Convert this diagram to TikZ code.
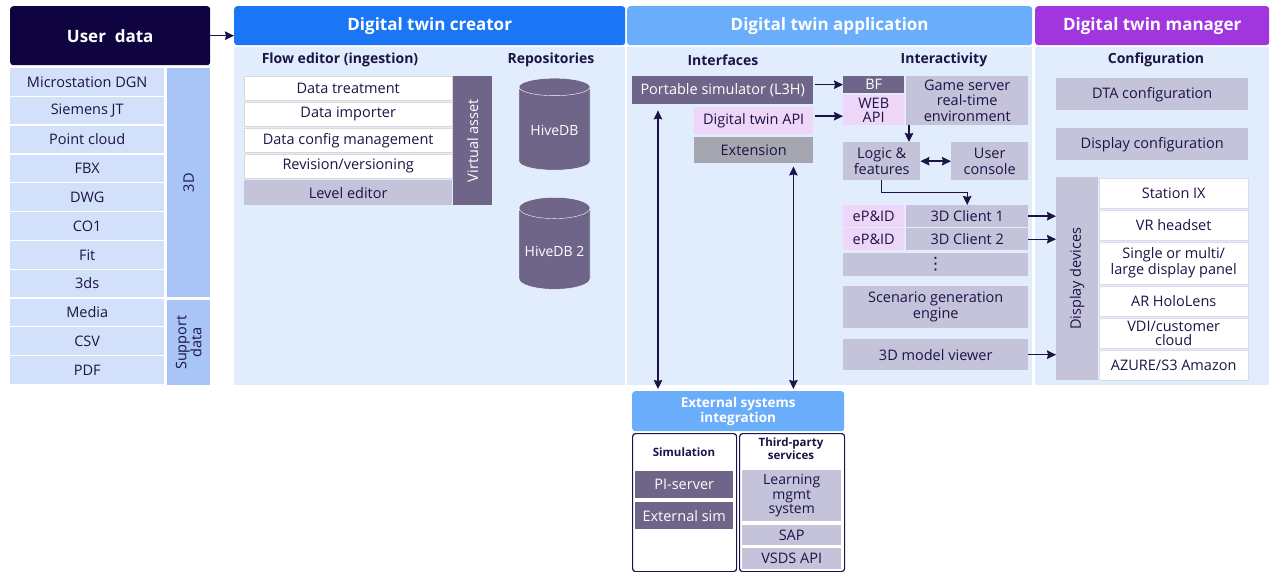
\documentclass[tikz,border=0pt]{standalone}
\usepackage{fontspec}
\setmainfont{Open Sans}
\newfontfamily\symfont{DejaVu Sans}
\usetikzlibrary{positioning, arrows.meta, shapes.geometric}
\definecolor{ink}{HTML}{1B1446}
\definecolor{udark}{HTML}{0F0340}
\definecolor{udrow}{HTML}{D2E1F9}
\definecolor{udcol}{HTML}{A9C5F7}
\definecolor{creatorblue}{HTML}{1A76F5}
\definecolor{appblue}{HTML}{6AAEFB}
\definecolor{mgrpurple}{HTML}{A136DF}
\definecolor{panelbg}{HTML}{E1EDFD}
\definecolor{lilac}{HTML}{C4C3DA}
\definecolor{plum}{HTML}{6E6589}
\definecolor{pink}{HTML}{EDD6F7}
\definecolor{stone}{HTML}{A6A6B0}
\tikzset{
x=1pt, y=-1pt, % pixel-like units, y grows downward
>={Stealth[length=9pt, width=8.5pt, inset=1pt]}, % makes the arrow heads bold
box/.style={anchor=north west, inner sep=1pt, align=center, text=ink, font=\fontsize{14.5}{16}\selectfont}, % every filled block
head/.style={box, rounded corners=3pt, text=white, font=\bfseries\fontsize{17}{19}\selectfont}, % coloured column headers
panel/.style={anchor=north west, fill=panelbg, inner sep=0pt}, % light column background
title/.style={text=ink, align=center, font=\bfseries\fontsize{14}{16}\selectfont}, % section titles
vlabel/.style={rotate=90, align=center, font=\fontsize{14.5}{15}\selectfont}, % rotated side labels
db/.style={cylinder, shape border rotate=90, aspect=0.32, draw=white, fill=plum, text=white, minimum width=71pt, minimum height=92pt, font=\fontsize{14}{16}\selectfont}, % repositories
link/.style={->, line width=1.4pt, draw=ink}, % connectors
}
\begin{document}
\begin{tikzpicture}
    \useasboundingbox (0,0) rectangle (1274,572);
    % user data
    \node[head, fill=udark, minimum width=200pt, minimum height=59pt] (user) at (10,6) {User\ \ data};
    \foreach \name [count=\i] in {Microstation DGN, Siemens JT, Point cloud, FBX, DWG, CO1, Fit, 3ds, Media, CSV, PDF}
        \node[box, fill=udrow, minimum width=154pt, minimum height=27.5pt] (ud\i) at (10,{68+28.8*(\i-1)}) {\name};
    \node[box, fill=udcol, minimum width=43pt, minimum height=229pt] (c3d) at (167,68) {};
    \node[vlabel, text=ink] at (c3d.center) {3D};
    \node[box, fill=udcol, minimum width=43pt, minimum height=85pt] (csup) at (167,300) {};
    \node[vlabel, text=ink] at (csup.center) {Support\\data};

    % digital twin creator
    \node[head, fill=creatorblue, minimum width=391pt, minimum height=39pt] (creator) at (234,6) {Digital twin creator};
    \node[panel, minimum width=391pt, minimum height=338pt] (crbody) at (234,47) {};
    \node[title] (flow) at (340,60) {Flow editor (ingestion)};
    \node[title] (repo) at (551,60) {Repositories};
    \foreach \name [count=\i] in {Data treatment, Data importer, Data config management, Revision/versioning}
        \node[box, fill=white, draw=black!15, minimum width=208pt, minimum height=24pt] (fe\i) at (244,{76+26*(\i-1)}) {\name};
    \node[box, fill=lilac, minimum width=208pt, minimum height=25pt] (level) at (244,180) {Level editor};
    \node[box, fill=plum, minimum width=39pt, minimum height=129pt] (vasset) at (453,76) {};
    \node[vlabel, text=white] at (vasset.center) {Virtual asset};
    \node[db] (hive1) at (554.5,130.5) {HiveDB};
    \node[db] (hive2) at (554.5,251) {HiveDB 2};

    % digital twin application
    \node[head, fill=appblue, minimum width=405pt, minimum height=39pt] (app) at (627,6) {Digital twin application};
    \node[panel, minimum width=405pt, minimum height=338pt] (appbody) at (627,47) {};
    \node[title] (intf) at (723,60) {Interfaces};
    \node[title] (inter) at (944,60) {Interactivity};
    \node[box, fill=plum, text=white, minimum width=181pt, minimum height=28pt] (psim) at (632,76) {Portable simulator (L3H)};
    \node[box, fill=pink, minimum width=119pt, minimum height=27pt] (dtapi) at (694,107) {Digital twin API};
    \node[box, fill=stone, minimum width=119pt, minimum height=26pt] (ext) at (694,137) {Extension};
    \node[box, fill=plum, text=white, minimum width=61pt, minimum height=17pt] (bf) at (843,76) {BF};
    \node[box, fill=pink, minimum width=61pt, minimum height=30pt, font=\fontsize{14.5}{13.5}\selectfont] (webapi) at (843,95) {WEB\\API};
    \node[box, fill=lilac, minimum width=122pt, minimum height=49pt, font=\fontsize{14.5}{15.5}\selectfont] (game) at (906,76) {Game server\\real-time\\environment};
    \node[box, fill=lilac, minimum width=77pt, minimum height=38pt] (logic) at (843,142) {Logic \&\\features};
    \node[box, fill=lilac, minimum width=77pt, minimum height=38pt] (ucons) at (951,142) {User\\console};
    \node[box, fill=pink, minimum width=61pt, minimum height=22pt] (epid1) at (843,205) {eP\&ID};
    \node[box, fill=lilac, minimum width=122pt, minimum height=22pt] (cl1) at (906,205) {3D Client 1};
    \node[box, fill=pink, minimum width=61pt, minimum height=22pt] (epid2) at (843,228) {eP\&ID};
    \node[box, fill=lilac, minimum width=122pt, minimum height=22pt] (cl2) at (906,228) {3D Client 2};
    \node[box, fill=lilac, minimum width=185pt, minimum height=23pt, font=\symfont\fontsize{17}{17}\selectfont] (more) at (843,253) {⋮};
    \node[box, fill=lilac, minimum width=185pt, minimum height=42pt] (scen) at (843,286) {Scenario generation\\engine};
    \node[box, fill=lilac, minimum width=185pt, minimum height=31pt] (viewer) at (843,339) {3D model viewer};

    % digital twin manager
    \node[head, fill=mgrpurple, minimum width=234pt, minimum height=39pt] (mgr) at (1035,6) {Digital twin manager};
    \node[panel, minimum width=234pt, minimum height=338pt] (mgrbody) at (1035,47) {};
    \node[title] (config) at (1156,60) {Configuration};
    \node[box, fill=lilac, minimum width=192pt, minimum height=32pt] (dta) at (1056,78) {DTA configuration};
    \node[box, fill=lilac, minimum width=192pt, minimum height=32pt] (dispcfg) at (1056,128) {Display configuration};
    \node[box, fill=lilac, minimum width=42pt, minimum height=203pt] (disp) at (1056,177) {};
    \node[vlabel, text=ink] at (disp.center) {Display devices};
    \node[box, fill=white, draw=lilac!60, minimum width=149pt, minimum height=30pt] (dev1) at (1099,178) {Station IX};
    \node[box, fill=white, draw=lilac!60, minimum width=149pt, minimum height=30pt] (dev2) at (1099,210) {VR headset};
    \node[box, fill=white, draw=lilac!60, minimum width=149pt, minimum height=42pt] (dev3) at (1099,242) {Single or multi/\\large display panel};
    \node[box, fill=white, draw=lilac!60, minimum width=149pt, minimum height=30pt] (dev4) at (1099,286) {AR HoloLens};
    \node[box, fill=white, draw=lilac!60, minimum width=149pt, minimum height=30pt, font=\fontsize{14.5}{14}\selectfont] (dev5) at (1099,318) {VDI/customer\\cloud};
    \node[box, fill=white, draw=lilac!60, minimum width=149pt, minimum height=30pt] (dev6) at (1099,350) {AZURE/S3 Amazon};

    % external systems
    \node[head, fill=appblue, minimum width=212pt, minimum height=40pt, font=\bfseries\fontsize{13.5}{15}\selectfont] (exthead) at (632,391) {External systems\\integration};
    \node[box, fill=white, draw=ink, line width=1.2pt, rounded corners=3pt, minimum width=104pt, minimum height=138pt] (simbox) at (632,433) {};
    \node[box, fill=white, draw=ink, line width=1.2pt, rounded corners=3pt, minimum width=105pt, minimum height=138pt] (tpbox) at (739,433) {};
    \node[title, font=\bfseries\fontsize{11.5}{13}\selectfont] (simt) at (684,452) {Simulation};
    \node[title, font=\bfseries\fontsize{11.5}{13}\selectfont] (tpt) at (791,449) {Third-party\\services};
    \node[box, fill=plum, text=white, minimum width=98pt, minimum height=27pt] (pis) at (635,471) {PI-server};
    \node[box, fill=plum, text=white, minimum width=98pt, minimum height=27pt] (extsim) at (635,502) {External sim};
    \node[box, fill=lilac, minimum width=99pt, minimum height=51pt, font=\fontsize{14}{14.5}\selectfont] (lms) at (742,470) {Learning\\mgmt\\system};
    \node[box, fill=lilac, minimum width=99pt, minimum height=20pt] (sap) at (742,525) {SAP};
    \node[box, fill=lilac, minimum width=99pt, minimum height=21pt] (vsds) at (742,548) {VSDS API};

    % connectors
    \draw[link] (user.east) -- (user.east -| creator.west);
    \draw[link, shorten <=2pt] (psim.east |- bf.west) -- (bf.west);
    \draw[link, shorten <=2pt] ([yshift=4.5pt]dtapi.east) -- ([yshift=4.5pt]dtapi.east -| webapi.west);
    \draw[link] ([xshift=3pt]game.south west) -- ([xshift=3pt]game.south west |- logic.north);
    \draw[link, <->] (logic) -- (ucons);
    \draw[link] (logic.south) -- ++(0,12) -| (cl1.north);
    \draw[link] (cl1.east) -- (cl1.east -| disp.west);
    \draw[link] (cl2.east) -- (cl2.east -| disp.west);
    \draw[link] (viewer.east) -- (viewer.east -| disp.west);
    \draw[link, <->, shorten >=2pt] ([xshift=26pt,yshift=-6pt]psim.south west) -- ([xshift=26pt]psim.south west |- exthead.north);
    \draw[link, <->, shorten >=2pt] ([xshift=-20pt,yshift=-3pt]ext.south east) -- ([xshift=-20pt]ext.south east |- exthead.north);
\end{tikzpicture}
\end{document}
